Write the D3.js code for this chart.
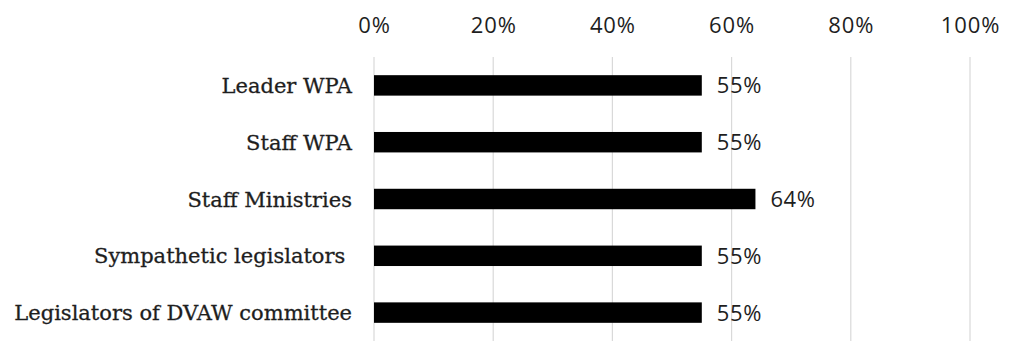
<!DOCTYPE html>
<html><head><meta charset="utf-8">
<script src="https://cdn.jsdelivr.net/npm/d3@7"></script>
<style>
html,body{margin:0;padding:0;background:#fff;}
svg{display:block;}
.cat{white-space:pre;}
</style></head>
<body>
<svg id="chart" width="1024" height="358"></svg>
<script>
const categories = ["Leader WPA", "Staff WPA", "Staff Ministries", "Sympathetic legislators ", "Legislators of DVAW committee"];
const values = [0.55, 0.55, 0.64, 0.55, 0.55];
const tickValues = [0, 0.2, 0.4, 0.6, 0.8, 1.0];

const svg = d3.select("#chart");
const margin = {left: 374, right: 54, top: 57, bottom: 17};
const W = 1024, H = 358;

const x = d3.scaleLinear().domain([0, 1]).range([margin.left, W - margin.right]);
const y = d3.scaleBand().domain(categories).range([margin.top, H - margin.bottom])
  .paddingInner(0.64).paddingOuter(0.32);

// gridlines
svg.append("g").selectAll("line").data(tickValues).join("line")
  .attr("x1", d => x(d)).attr("x2", d => x(d))
  .attr("y1", margin.top).attr("y2", H - margin.bottom)
  .attr("stroke", "#d9d9d9").attr("stroke-width", 1.2);

// top axis labels
const xAxis = d3.axisTop(x).tickValues(tickValues).tickFormat(d3.format(".0%")).tickSize(0).tickPadding(0);
const ax = svg.append("g").attr("transform", "translate(0,33)").call(xAxis);
ax.select(".domain").remove();
ax.selectAll("text").attr("font-family", "Open Sans").attr("font-size", 22)
  .attr("fill", "#1e1e1e").attr("dy", 0).attr("letter-spacing", 0.9);

// bars
svg.append("g").selectAll("rect").data(values).join("rect")
  .attr("x", x(0)).attr("y", (d, i) => y(categories[i]))
  .attr("width", d => x(d) - x(0)).attr("height", y.bandwidth())
  .attr("fill", "#000");

// value labels
svg.append("g").selectAll("text").data(values).join("text")
  .attr("x", d => x(d) + 15).attr("y", (d, i) => y(categories[i]) + y.bandwidth() / 2)
  .attr("dy", "0.36em")
  .attr("font-family", "Open Sans").attr("font-size", 22).attr("letter-spacing", 0.6)
  .attr("fill", "#1e1e1e")
  .text(d => d3.format(".0%")(d));

// category labels
const yAxis = d3.axisLeft(y).tickSize(0).tickPadding(22);
const ay = svg.append("g").attr("transform", `translate(${margin.left},0)`).call(yAxis);
ay.select(".domain").remove();
ay.selectAll("text").attr("class", "cat").attr("font-family", "DejaVu Serif").attr("font-size", 21)
  .attr("fill", "#1e1e1e").attr("stroke", "#1e1e1e").attr("stroke-width", 0.3).attr("dy", "0.36em");
</script>
</body></html>
